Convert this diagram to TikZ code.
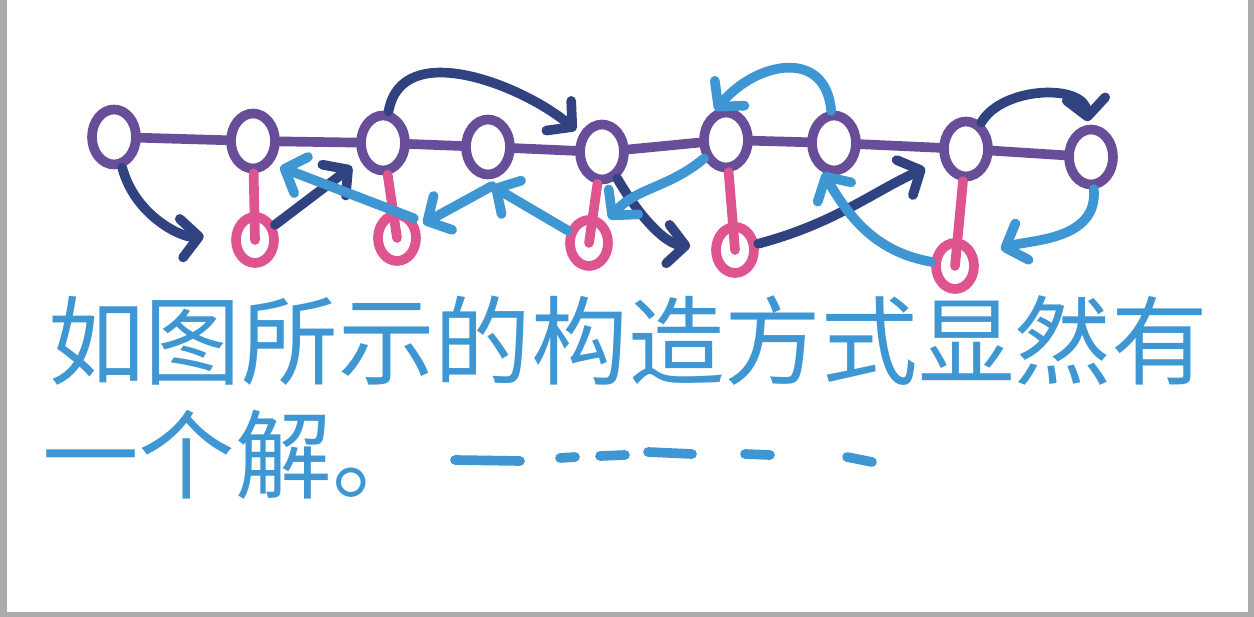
\documentclass[tikz,border=0pt]{standalone}
\usepackage{fontspec}
\newfontfamily\cjk{Noto Sans CJK SC}
\usetikzlibrary{arrows.meta,shapes.geometric}
\definecolor{ringpurple}{RGB}{104,78,152}
\definecolor{ringpink}{RGB}{222,84,142}
\definecolor{navyink}{RGB}{48,66,128}
\definecolor{skyink}{RGB}{62,150,210}
\definecolor{framegray}{RGB}{171,171,171}

\begin{document}
\begin{tikzpicture}[x=0.02cm, y=-0.02cm,
	ring/.style={ellipse, draw=ringpurple, line width=5.5pt, inner sep=0pt, minimum width=0.88cm, minimum height=1.1cm},
	bead/.style={ellipse, draw=ringpink, line width=5.5pt, inner sep=0pt, minimum width=0.76cm, minimum height=0.92cm},
	link/.style={ringpurple, line width=5.5pt, line cap=round},
	drop/.style={ringpink, line width=5.5pt, line cap=round},
	jump/.style={navyink, line width=5.5pt, line cap=round, -{Straight Barb[round,length=10pt,width=22pt]}},
	back/.style={skyink, line width=5.5pt, line cap=round, -{Straight Barb[round,length=10pt,width=22pt]}},
	hand/.style={skyink, font=\cjk\fontsize{55pt}{60pt}\selectfont, anchor=west, inner sep=0pt}]

	% Frame
	\fill[framegray] (0,0) rectangle (1254,617);
	\fill[white] (7,0) rectangle (1248,612);
	\useasboundingbox (0,0) rectangle (1254,617);

	% Rings and beads
	\foreach \i/\x/\y in {1/114/137, 2/253/141, 3/383/143, 4/488/147, 5/602/152, 6/726/140, 7/834/143, 8/966/149, 9/1091/157}
		\node[ring] (p\i) at (\x,\y) {};
	\foreach \i/\x/\y in {2/255/240, 3/397/238, 5/589/243, 6/735/250, 8/955/266}
		\node[bead] (q\i) at (\x,\y) {};

	\foreach \a/\b in {1/2, 2/3, 3/4, 4/5, 5/6, 6/7, 7/8, 8/9}
		\draw[link] (p\a) -- (p\b);
	\foreach \i in {2,3,5,6,8}
		\draw[drop] (p\i) -- (q\i.center);

	% Forward jumps
	\draw[jump, shorten >=16pt] (p1) to[out=-75, in=185] (q2.165);
	\draw[jump, shorten >=6pt] (q2) -- (p3);
	\draw[jump, shorten >=3pt] (p3) to[out=80, in=140] (p5);
	\draw[jump, shorten >=12pt] (p5) to[out=-60, in=175] (q6);
	\draw[jump, shorten >=10pt] (q6) to[out=15, in=205] (p8);
	\draw[jump, shorten >=2pt] (p8) to[out=60, in=95] (p9);

	% Backward jumps
	\coordinate (peak) at (492,186);
	\draw[back, shorten >=5pt] (q3.north east) -- (p2.south east);
	\draw[back] (q5) -- (peak);
	\draw[back, shorten >=3pt] (peak) -- (q3);
	\draw[back, shorten >=3pt] (p6) to[out=220, in=50] (q5);
	\draw[back, looseness=1.4] (p7) to[out=95, in=50] (p6.110);
	\draw[back] (q8) to[out=170, in=-60] (p7.-110);
	\draw[back, shorten >=14pt] (p9) to[out=-85, in=20] (q8);

	% Text
	\node[hand] (line1) at (48,340) {如图所示的构造方式显然有};
	\node[hand] (line2) at (42,455) {一个解。};
	\draw[skyink, line width=5.5pt, line cap=round] (455,460) -- (520,461) (560,458) -- (575,457) (600,456) -- (625,455) (648,452) -- (692,454) (745,454) -- (770,455) (847,457) -- (872,462);

\end{tikzpicture}
\end{document}
